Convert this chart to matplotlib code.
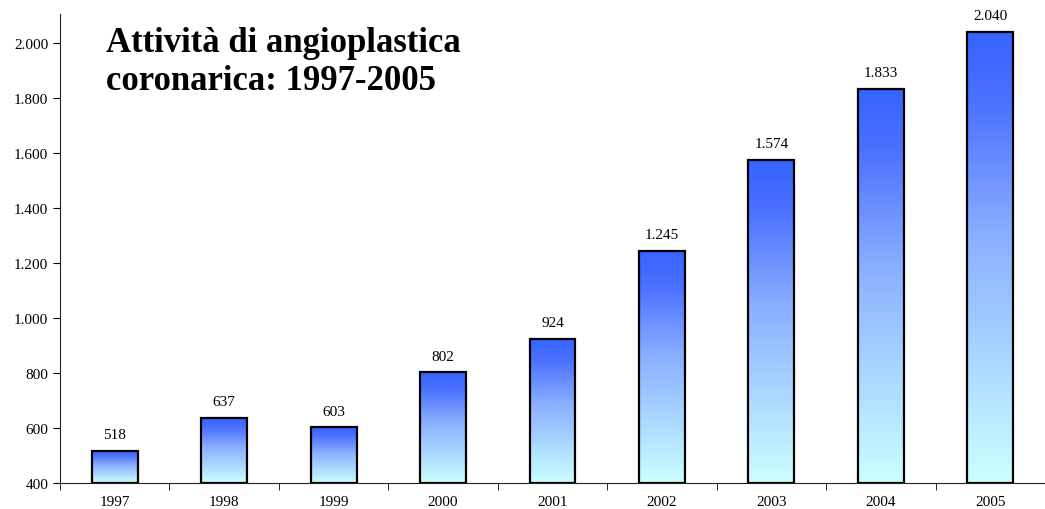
import matplotlib
matplotlib.use('Agg')
import matplotlib.pyplot as plt
from matplotlib.colors import LinearSegmentedColormap
import numpy as np

# data
years = ['1997', '1998', '1999', '2000', '2001', '2002', '2003', '2004', '2005']
values = [518, 637, 603, 802, 924, 1245, 1574, 1833, 2040]
y_ticks = [400, 600, 800, 1000, 1200, 1400, 1600, 1800, 2000]

BASE = 400
BAR_WIDTH = 0.42


def fmt(v):
    return f'{v:,}'.replace(',', '.')


plt.rcParams['font.family'] = ['Liberation Serif', 'DejaVu Serif']

fig = plt.figure(figsize=(10.45, 5.1), dpi=100)
ax = fig.add_axes([60 / 1045, 26 / 510, 985 / 1045, 469 / 510])

cmap = LinearSegmentedColormap.from_list(
    'grad', [(0.0, '#ccffff'), (0.55, '#8aaeff'), (0.85, '#4a70ff'), (1.0, '#3664ff')])
grad = np.linspace(0, 1, 256).reshape(-1, 1)

x = np.arange(len(years))
for xi, v in zip(x, values):
    ax.imshow(grad, cmap=cmap, origin='lower', aspect='auto',
              extent=[xi - BAR_WIDTH / 2, xi + BAR_WIDTH / 2, BASE, v], zorder=2)
    ax.bar(xi, v - BASE, bottom=BASE, width=BAR_WIDTH, facecolor='none',
           edgecolor='black', linewidth=1.6, zorder=3)
    ax.text(xi, v + 35, fmt(v), ha='center', va='bottom', fontsize=11)

ax.set_xlim(-0.5, len(years) - 0.5)
ax.set_ylim(BASE, 2105)
ax.set_yticks(y_ticks)
ax.set_yticklabels([fmt(t) for t in y_ticks], fontsize=11)
ax.set_xticks(x)
ax.set_xticklabels(years, fontsize=11)
ax.tick_params(axis='x', length=0, pad=9)
ax.set_xticks(np.arange(len(years) + 1) - 0.5, minor=True)
ax.tick_params(axis='x', which='minor', length=5, direction='out')
ax.tick_params(axis='y', length=5, direction='out')

for s in ['top', 'right']:
    ax.spines[s].set_visible(False)
for s in ['left', 'bottom']:
    ax.spines[s].set_color('#222222')

ax.text(0.047, 0.975, 'Attività di angioplastica\ncoronarica: 1997-2005',
        transform=ax.transAxes, ha='left', va='top', fontsize=25,
        fontweight='bold', linespacing=1.2)

fig.savefig('out.png', dpi=100)
